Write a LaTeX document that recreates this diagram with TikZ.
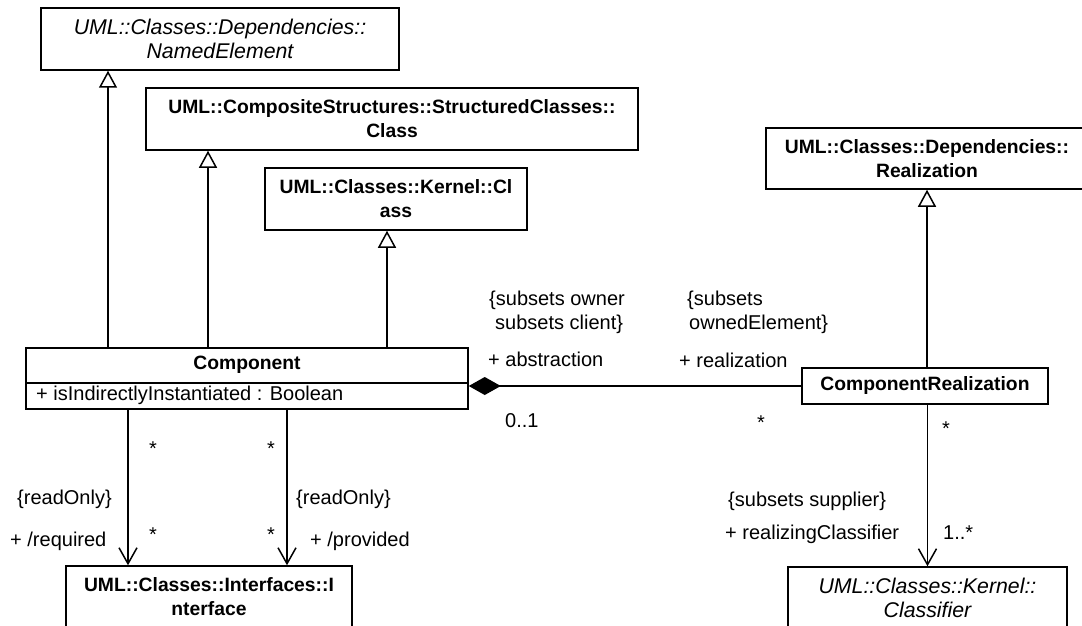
\documentclass[tikz,border=0pt]{standalone}
\usepackage{fontspec}
\setmainfont{Liberation Sans}
\usetikzlibrary{arrows.meta}
\begin{document}
\begin{tikzpicture}[x=1pt,y=-1pt,
  classbox/.style={draw=black, line width=1.5pt, inner sep=0pt, align=center,
    font={\fontsize{19.3}{24}\selectfont\bfseries}},
  abstractbox/.style={classbox, font={\fontsize{21.3}{24}\selectfont\itshape}},
  lbl/.style={inner sep=0pt, anchor=base west, font={\fontsize{20}{24}\selectfont}},
  mult/.style={inner sep=0pt, anchor=base, font={\fontsize{20}{24}\selectfont}},
  gen/.style={line width=1.5pt, -{Triangle[open, width=18pt, length=17pt]}},
  nav/.style={line width=1.5pt, -{Straight Barb[width=18pt, length=16pt]}},
  compo/.style={line width=1.5pt, {Diamond[width=18pt, length=32pt]}-}
]
\useasboundingbox (0,0) rectangle (1082,626);
\fill[white] (0,0) rectangle (1082,626);
\clip (0,0) rectangle (1082,626);

% superclasses
\node[abstractbox, minimum width=358pt, minimum height=62pt] (ne) at (220,39)
  {UML::Classes::Dependencies::\\NamedElement};
\node[classbox, minimum width=492pt, minimum height=62pt] (sc) at (392,119)
  {UML::CompositeStructures::StructuredClasses::\\Class};
\node[classbox, minimum width=262pt, minimum height=62pt] (kc) at (396,199)
  {UML::Classes::Kernel::Cl\\ass};
\node[classbox, minimum width=322pt, minimum height=61pt] (rz) at (927,158.5)
  {UML::Classes::Dependencies::\\Realization};

% Component with its attribute compartment
\node[classbox, minimum width=442pt, minimum height=61pt] (comp) at (247,378.5) {};
\draw[line width=1.5pt] (comp.west |- 0,383) -- (comp.east |- 0,383);
\node[inner sep=0pt, font={\fontsize{19.3}{24}\selectfont\bfseries}] (compname) at (247,365) {Component};
\node[lbl, anchor=west] (compattr) at (36,395.5) {+ isIndirectlyInstantiated : Boolean};

\node[classbox, minimum width=246pt, minimum height=36pt] (cr) at (925,386) {ComponentRealization};

% targets at the lower edge
\node[classbox, minimum width=286pt, minimum height=62pt] (itf) at (209,597)
  {UML::Classes::Interfaces::I\\nterface};
\node[abstractbox, minimum width=279pt, minimum height=62pt] (cl) at (927.5,598)
  {UML::Classes::Kernel::\\Classifier};

% generalizations
\draw[gen] (comp.north -| 108,0) -- (ne.south -| 108,0);
\draw[gen] (comp.north -| 208,0) -- (sc.south -| 208,0);
\draw[gen] (comp.north -| 387,0) -- (kc.south -| 387,0);
\draw[gen] (cr.north -| rz.south) -- (rz.south);

% associations
\draw[compo] (comp.east |- cr.west) -- (cr.west);
\draw[nav] (comp.south -| 128,0) -- (itf.north -| 128,0);
\draw[nav] (comp.south -| 287,0) -- (itf.north -| 287,0);
\draw[nav] (cr.south -| cl.north) -- (cl.north);

% role names, constraints and multiplicities
\node[lbl] (ro1) at (17,504) {\{readOnly\}};
\node[lbl] (req) at (10,546) {+ /required};
\node[lbl] (ro2) at (296,504) {\{readOnly\}};
\node[lbl] (prov) at (310,546) {+ /provided};
\node[mult] (m1) at (153,455) {*};
\node[mult] (m2) at (271,455) {*};
\node[mult] (m3) at (153,541) {*};
\node[mult] (m4) at (271,541) {*};

\node[lbl] (sub1) at (489,305) {\{subsets owner};
\node[lbl] (sub2) at (495,329) {subsets client\}};
\node[lbl] (abs) at (488,366) {+ abstraction};
\node[lbl] (m5) at (505,427) {0..1};
\node[lbl] (sub3) at (687,305) {\{subsets};
\node[lbl] (sub4) at (689,329) {ownedElement\}};
\node[lbl] (real) at (679,367) {+ realization};
\node[mult] (m6) at (761,429) {*};
\node[mult] (m7) at (946,435) {*};

\node[lbl] (sup) at (728,506) {\{subsets supplier\}};
\node[lbl] (rc) at (725,539) {+ realizingClassifier};
\node[lbl] (m8) at (943,539) {1..*};
\end{tikzpicture}
\end{document}
